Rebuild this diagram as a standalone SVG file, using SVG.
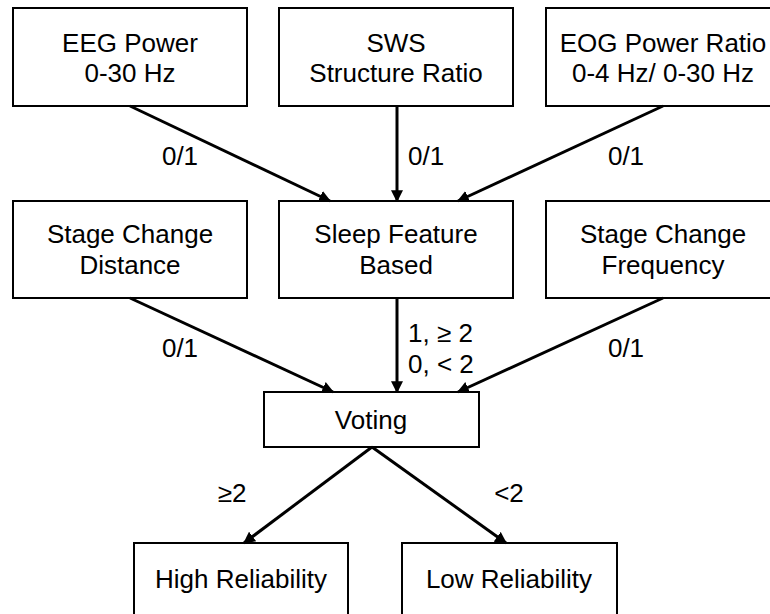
<svg xmlns="http://www.w3.org/2000/svg" width="770" height="614" viewBox="0 0 770 614">
<style>
.box{fill:#fff;stroke:#000;stroke-width:2}
text{font-family:"Liberation Sans",Arial,sans-serif;font-size:26px;fill:#000}
.c{text-anchor:middle}
.e{stroke:#000;stroke-width:3;fill:none;marker-end:url(#ah)}
</style>
<defs>
<marker id="ah" viewBox="0 0 10 10" refX="9" refY="5" markerWidth="4" markerHeight="4" orient="auto" markerUnits="strokeWidth">
<path d="M0,0 L10,5 L0,10 z" fill="#000"/>
</marker>
</defs>
<rect width="770" height="614" fill="#fff"/>
<g id="eeg"><rect class="box" x="13" y="8" width="234" height="98"/><text class="c" x="130" y="52">EEG Power</text><text class="c" x="130" y="82">0-30 Hz</text></g>
<g id="sws"><rect class="box" x="279" y="8" width="234" height="98"/><text class="c" x="396" y="52">SWS</text><text class="c" x="396" y="82">Structure Ratio</text></g>
<g id="eog"><rect class="box" x="546" y="8" width="234" height="98"/><text class="c" x="663" y="52">EOG Power Ratio</text><text class="c" x="663" y="82">0-4 Hz/ 0-30 Hz</text></g>
<g id="scd"><rect class="box" x="13" y="201" width="234" height="97"/><text class="c" x="130" y="243">Stage Change</text><text class="c" x="130" y="274">Distance</text></g>
<g id="sfb"><rect class="box" x="279" y="201" width="234" height="97"/><text class="c" x="396" y="243">Sleep Feature</text><text class="c" x="396" y="274">Based</text></g>
<g id="scf"><rect class="box" x="546" y="201" width="234" height="97"/><text class="c" x="663" y="243">Stage Change</text><text class="c" x="663" y="274">Frequency</text></g>
<g id="voting"><rect class="box" x="264" y="392" width="215" height="55"/><text class="c" x="371" y="429">Voting</text></g>
<g id="high"><rect class="box" x="134" y="543" width="214" height="80"/><text class="c" x="241" y="588">High Reliability</text></g>
<g id="low"><rect class="box" x="402" y="543" width="215" height="80"/><text class="c" x="509" y="588">Low Reliability</text></g>
<g id="connectors">
<line class="e" x1="130" y1="106" x2="330" y2="201"/>
<line class="e" x1="397" y1="106" x2="397" y2="201"/>
<line class="e" x1="663" y1="106" x2="458" y2="201"/>
<line class="e" x1="130" y1="298" x2="333" y2="392"/>
<line class="e" x1="397" y1="298" x2="397" y2="392"/>
<line class="e" x1="663" y1="298" x2="458" y2="392"/>
<line class="e" x1="372" y1="447" x2="244" y2="543"/>
<line class="e" x1="372" y1="447" x2="506" y2="543"/>
<text class="c" x="180" y="165">0/1</text>
<text x="408" y="165">0/1</text>
<text class="c" x="626" y="165">0/1</text>
<text class="c" x="180" y="357">0/1</text>
<text x="408" y="342">1, ≥ 2</text>
<text x="408" y="373">0, &lt; 2</text>
<text class="c" x="626" y="357">0/1</text>
<text class="c" x="232" y="502">≥2</text>
<text class="c" x="509" y="502">&lt;2</text>
</g>
</svg>
